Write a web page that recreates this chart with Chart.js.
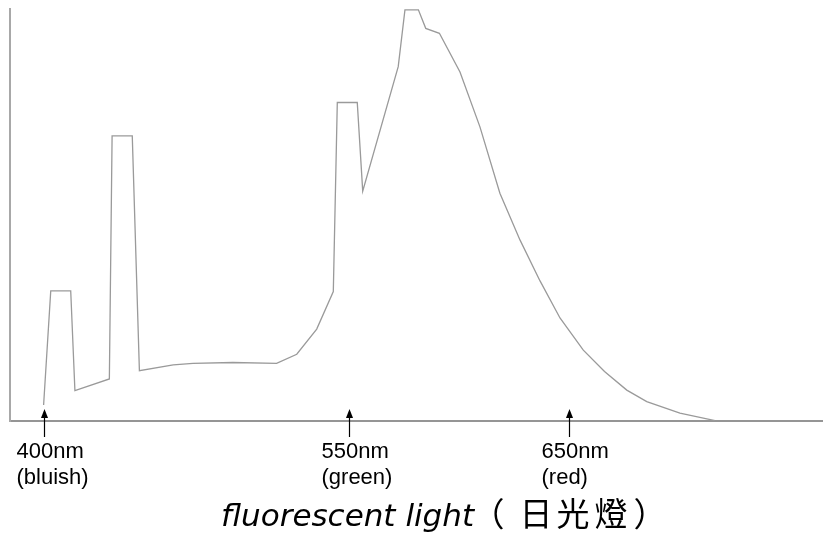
<!DOCTYPE html>
<html>
<head>
<meta charset="utf-8">
<script src="https://cdn.jsdelivr.net/npm/chart.js@4"></script>
<style>
  html, body { margin: 0; padding: 0; background: #fff; }
  #wrap { width: 823px; height: 536px; }
</style>
</head>
<body>
<div id="wrap"><canvas id="myChart" width="823" height="536"></canvas></div>
<script>
// wavelength (nm) and relative intensity
var wavelength = [400, 403.4, 412.9, 414.9, 431.3, 432.6, 442.2, 445.6, 461.7, 471.1,
    490.1, 510.9, 520.5, 530, 537.9, 539.8, 549.3, 551.9, 568.8, 572,
    578.4, 581.9, 588.4, 598.2, 607.7, 617.2, 626.8, 636.3, 645.8, 656.9,
    667, 677.6, 687.1, 702.9, 719.6];
var intensity = [3.9, 31.6, 31.6, 7.4, 10.2, 69.2, 69.2, 12.2, 13.6, 14.0,
    14.2, 14.0, 16.2, 22.3, 31.4, 77.3, 77.3, 55.8, 86.0, 99.8,
    99.8, 95.3, 94.1, 84.7, 71.4, 55.3, 43.9, 34.0, 25.0, 17.2,
    12.0, 7.5, 4.7, 1.9, 0.1];

// arrow marks under the axis
var markAt = [400, 545.5, 650];
var markTop = ['400nm', '550nm', '650nm'];
var markBottom = ['(bluish)', '(green)', '(red)'];

var titleLatin = 'fluorescent light';
var titleCJK = ['（', '日', '光', '燈', '）'];

var points = wavelength.map(function (w, i) { return {x: w, y: intensity[i]}; });

var marks = {
    id: 'marks',
    afterDraw: function (chart) {
        var c = chart.ctx;
        var xs = chart.scales.x;
        var bottom = chart.chartArea.bottom;
        c.save();
        c.fillStyle = '#000';
        c.strokeStyle = '#000';
        c.lineWidth = 1.2;
        markAt.forEach(function (w, i) {
            var px = Math.round(xs.getPixelForValue(w)) + 0.5;
            c.beginPath();
            c.moveTo(px, bottom + 16);
            c.lineTo(px, bottom - 4);
            c.stroke();
            c.beginPath();
            c.moveTo(px, bottom - 12);
            c.lineTo(px - 3.5, bottom - 3);
            c.lineTo(px + 3.5, bottom - 3);
            c.closePath();
            c.fill();
            c.font = '22px "Liberation Sans", Arial, sans-serif';
            c.textAlign = 'left';
            c.textBaseline = 'alphabetic';
            c.fillText(markTop[i], px - 28, bottom + 37);
            c.fillText(markBottom[i], px - 28, bottom + 63);
        });
        // title
        c.font = 'italic 31px "DejaVu Sans", sans-serif';
        c.fillText(titleLatin, 221, 526);
        c.font = '33px "Noto Sans CJK TC", sans-serif';
        c.textAlign = 'center';
        var cx = [488, 536, 573, 611, 650];
        titleCJK.forEach(function (ch, i) {
            c.fillText(ch, cx[i], 526);
        });
        c.restore();
    }
};

var ctx = document.getElementById('myChart').getContext('2d');
var myChart = new Chart(ctx, {
    type: 'line',
    data: {
        datasets: [{
            data: points,
            borderColor: '#9a9a9a',
            borderWidth: 1.3,
            pointRadius: 0,
            tension: 0,
            fill: false
        }]
    },
    options: {
        responsive: false,
        animation: false,
        layout: { padding: { left: 10, top: 9, right: 0, bottom: 115 } },
        plugins: {
            legend: { display: false },
            tooltip: { enabled: false }
        },
        scales: {
            x: {
                type: 'linear',
                min: 384,
                max: 771,
                grid: { display: false },
                ticks: { display: false },
                border: { display: true, color: '#959595', width: 2 },
                afterFit: function (s) { s.height = 0; }
            },
            y: {
                min: 0,
                max: 100,
                grid: { display: false },
                ticks: { display: false },
                border: { display: true, color: '#a8a8a8', width: 2 },
                afterFit: function (s) { s.width = 0; }
            }
        }
    },
    plugins: [marks]
});
</script>
</body>
</html>
